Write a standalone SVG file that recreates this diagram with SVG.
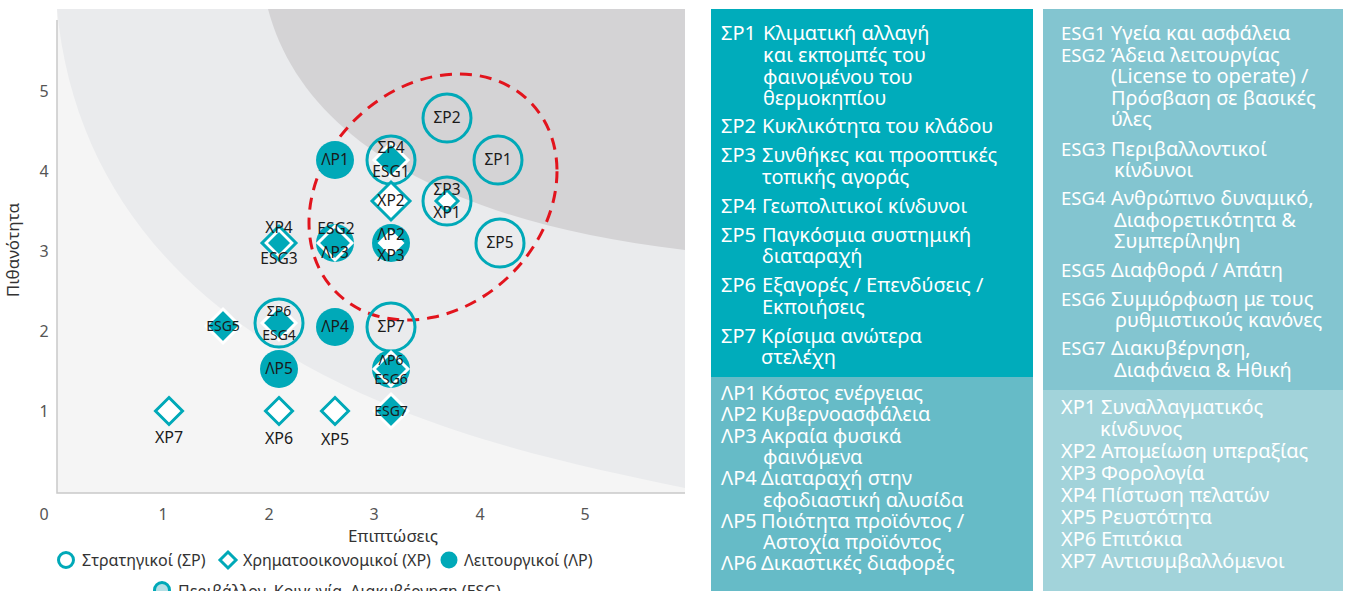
<svg xmlns="http://www.w3.org/2000/svg" xmlns:xlink="http://www.w3.org/1999/xlink" width="1359" height="591" viewBox="0 0 1359 591">
<style>
text{font-family:"Noto Sans","DejaVu Sans",sans-serif}
.sp{fill:none;stroke:#00a9b8;stroke-width:3}
.lp{fill:#00a9b8}
.xp{fill:#fff;stroke:#00a9b8;stroke-width:3}
.esg{fill:#00a9b8;stroke:#fff;stroke-width:3}
.in{fill:#00a9b8}
.wd{fill:#fff}
.lbl{font-size:15.5px;fill:#1a1a1a;text-anchor:middle}
.big{font-size:16px}
.sm{font-size:14px}
.tick{font-size:16px;fill:#555;text-anchor:middle}
.axt{font-size:17px;fill:#333;text-anchor:middle}
.leg{font-size:16px;fill:#333}
.pt{font-size:20px;fill:#fff}
.el{font-size:18.5px}
</style>
<defs>
<path id="d17" d="M0,-17L17,0L0,17L-17,0Z"/>
<path id="d19" d="M0,-19L19,0L0,19L-19,0Z"/>
<path id="d13" d="M0,-13.5L13.5,0L0,13.5L-13.5,0Z"/>
<path id="d11" d="M0,-11L11,0L0,11L-11,0Z"/>
<path id="d8" d="M0,-8L8,0L0,8L-8,0Z"/>
</defs>

<g id="chart-bg">
<rect x="57" y="9" width="628" height="484" fill="#f5f5f5"/>
<path d="M57,9 C75,200 200,330 400,410 C500,450 600,470 685,488 L685,9 Z" fill="#eaebed"/>
<path d="M268,9 C300,130 430,220 685,250 L685,9 Z" fill="#d4d3d5"/>
<path d="M57,20 L57,493 L685,493" fill="none" stroke="#c9c9c9" stroke-width="1.5"/>
</g>

<g id="axes">
<text class="tick" x="44" y="97">5</text>
<text class="tick" x="44" y="177">4</text>
<text class="tick" x="44" y="257">3</text>
<text class="tick" x="44" y="337">2</text>
<text class="tick" x="44" y="417">1</text>
<text class="tick" x="44" y="520">0</text>
<text class="tick" x="163" y="520">1</text>
<text class="tick" x="269" y="520">2</text>
<text class="tick" x="374" y="520">3</text>
<text class="tick" x="480" y="520">4</text>
<text class="tick" x="585" y="520">5</text>
<text class="axt" x="393" y="542">Επιπτώσεις</text>
<text class="axt" transform="translate(19,250) rotate(-90)">Πιθανότητα</text>
</g>

<g id="connectors">
<path d="M557,171.2 C557,237.6 501.5,303.1 433,317.3 C364.5,331.5 309,289.2 309,222.8 C309,156.4 364.5,90.9 433,76.7 C501.5,62.5 557,104.8 557,171.2 Z" fill="none" stroke="#e2141d" stroke-width="3" stroke-dasharray="12 8"/>
</g>

<g id="SP2"><circle class="sp" cx="447" cy="118" r="24"/><text class="lbl" x="447" y="123">ΣΡ2</text></g>
<g id="SP1"><circle class="sp" cx="498" cy="160" r="24"/><text class="lbl" x="498" y="165">ΣΡ1</text></g>
<g id="LP1"><circle class="lp" cx="335" cy="160" r="19"/><text class="lbl" x="335" y="165">ΛΡ1</text></g>
<g id="SP4-ESG1"><circle class="sp" cx="391" cy="160" r="24"/><use xlink:href="#d17" class="esg" x="391" y="160"/><text class="lbl" x="391" y="153">ΣΡ4</text><text class="lbl" x="391" y="177">ESG1</text></g>
<g id="XP2"><use xlink:href="#d19" class="xp" x="391" y="201"/><text class="lbl" x="391" y="206">ΧΡ2</text></g>
<g id="SP3-XP1"><circle class="sp" cx="447" cy="201" r="24"/><use xlink:href="#d11" class="xp" x="447" y="201"/><text class="lbl" x="447" y="195">ΣΡ3</text><text class="lbl" x="447" y="218">ΧΡ1</text></g>
<g id="SP5"><circle class="sp" cx="500" cy="243" r="24"/><text class="lbl" x="500" y="248">ΣΡ5</text></g>
<g id="XP4-ESG3"><use xlink:href="#d17" class="xp" x="279" y="243"/><use xlink:href="#d11" class="in" x="279" y="243"/><text class="lbl" x="279" y="233">ΧΡ4</text><text class="lbl" x="279" y="264">ESG3</text></g>
<g id="ESG2-LP3"><circle class="lp" cx="335" cy="243" r="19"/><use xlink:href="#d17" class="esg" x="335" y="243"/><text class="lbl" x="336" y="234">ESG2</text><text class="lbl" x="335" y="258">ΛΡ3</text></g>
<g id="LP2-XP3"><circle class="lp" cx="391" cy="243" r="19"/><use xlink:href="#d13" class="wd" x="391" y="243"/><text class="lbl" x="391" y="240">ΛΡ2</text><text class="lbl" x="391" y="261">ΧΡ3</text></g>
<g id="ESG5"><use xlink:href="#d17" class="esg" x="223" y="326"/><text class="lbl sm" x="223" y="331">ESG5</text></g>
<g id="SP6-ESG4"><circle class="sp" cx="279" cy="323" r="24"/><use xlink:href="#d17" class="esg" x="279" y="323"/><text class="lbl sm" x="279" y="316">ΣΡ6</text><text class="lbl sm" x="279" y="340">ESG4</text></g>
<g id="LP4"><circle class="lp" cx="335" cy="327" r="19"/><text class="lbl" x="335" y="332">ΛΡ4</text></g>
<g id="SP7"><circle class="sp" cx="391" cy="327" r="24"/><text class="lbl" x="391" y="332">ΣΡ7</text></g>
<g id="LP5"><circle class="lp" cx="279" cy="369" r="19"/><text class="lbl" x="279" y="374">ΛΡ5</text></g>
<g id="LP6-ESG6"><circle class="lp" cx="391" cy="369" r="19"/><use xlink:href="#d17" class="esg" x="391" y="369"/><text class="lbl sm" x="391" y="365">ΛΡ6</text><text class="lbl sm" x="391" y="384">ESG6</text></g>
<g id="XP7"><use xlink:href="#d13" class="xp" x="169" y="411"/><text class="lbl big" x="169" y="443">ΧΡ7</text></g>
<g id="XP6"><use xlink:href="#d13" class="xp" x="279" y="411"/><text class="lbl big" x="279" y="444">ΧΡ6</text></g>
<g id="XP5"><use xlink:href="#d13" class="xp" x="335" y="411"/><text class="lbl big" x="335" y="445">ΧΡ5</text></g>
<g id="ESG7"><use xlink:href="#d17" class="esg" x="391" y="411"/><text class="lbl sm" x="391" y="416">ESG7</text></g>

<g id="legend">
<circle cx="66" cy="560" r="7.5" fill="#fff" stroke="#00a9b8" stroke-width="3"/>
<text class="leg" x="82" y="566">Στρατηγικοί (ΣΡ)</text>
<use xlink:href="#d8" class="xp" x="228" y="560"/>
<text class="leg" x="243" y="566">Χρηματοοικονομικοί (ΧΡ)</text>
<circle cx="449" cy="560" r="8.5" fill="#00a9b8"/>
<text class="leg" x="464" y="566">Λειτουργικοί (ΛΡ)</text>
<circle cx="162" cy="590" r="7.5" fill="#b4dfe5" stroke="#00a9b8" stroke-width="3"/>
<text class="leg" x="178" y="597">Περιβάλλον, Κοινωνία, Διακυβέρνηση (ESG)</text>
</g>

<g id="panel-SP">
<rect x="711" y="9" width="322" height="368" fill="#00acbb"/>
<text class="pt"><tspan x="721" y="40">ΣΡ1</tspan><tspan x="763" y="40">Κλιματική αλλαγή</tspan><tspan x="763" y="62">και εκπομπές του</tspan><tspan x="763" y="83.5">φαινομένου του</tspan><tspan x="763" y="105">θερμοκηπίου</tspan></text>
<text class="pt"><tspan x="721" y="133">ΣΡ2</tspan><tspan x="762" y="133">Κυκλικότητα του κλάδου</tspan></text>
<text class="pt"><tspan x="721" y="162">ΣΡ3</tspan><tspan x="762" y="162">Συνθήκες και προοπτικές</tspan><tspan x="762" y="183.5">τοπικής αγοράς</tspan></text>
<text class="pt"><tspan x="721" y="213">ΣΡ4</tspan><tspan x="762" y="213">Γεωπολιτικοί κίνδυνοι</tspan></text>
<text class="pt"><tspan x="721" y="242">ΣΡ5</tspan><tspan x="762" y="242">Παγκόσμια συστημική</tspan><tspan x="762" y="263">διαταραχή</tspan></text>
<text class="pt"><tspan x="721" y="292">ΣΡ6</tspan><tspan x="762" y="292">Εξαγορές / Επενδύσεις /</tspan><tspan x="762" y="313.5">Εκποιήσεις</tspan></text>
<text class="pt"><tspan x="721" y="343">ΣΡ7</tspan><tspan x="761" y="343">Κρίσιμα ανώτερα</tspan><tspan x="761" y="364">στελέχη</tspan></text>
</g>

<g id="panel-LP">
<rect x="711" y="377" width="322" height="214" fill="#66bbc7"/>
<text class="pt"><tspan x="721" y="400">ΛΡ1</tspan><tspan x="761" y="400">Κόστος ενέργειας</tspan></text>
<text class="pt"><tspan x="721" y="421.3">ΛΡ2</tspan><tspan x="761" y="421.3">Κυβερνοασφάλεια</tspan></text>
<text class="pt"><tspan x="721" y="442.6">ΛΡ3</tspan><tspan x="761" y="442.6">Ακραία φυσικά</tspan><tspan x="763" y="463.9">φαινόμενα</tspan></text>
<text class="pt"><tspan x="721" y="485.2">ΛΡ4</tspan><tspan x="761" y="485.2">Διαταραχή στην</tspan><tspan x="763" y="506.5">εφοδιαστική αλυσίδα</tspan></text>
<text class="pt"><tspan x="721" y="527.8">ΛΡ5</tspan><tspan x="761" y="527.8">Ποιότητα προϊόντος /</tspan><tspan x="763" y="549.1">Αστοχία προϊόντος</tspan></text>
<text class="pt"><tspan x="721" y="570.4">ΛΡ6</tspan><tspan x="761" y="570.4">Δικαστικές διαφορές</tspan></text>
</g>

<g id="panel-ESG">
<rect x="1043" y="9" width="300" height="381" fill="#83c5d0"/>
<text class="pt"><tspan class="el" x="1061" y="40">ESG1</tspan><tspan x="1111" y="40">Υγεία και ασφάλεια</tspan></text>
<text class="pt"><tspan class="el" x="1061" y="61.5">ESG2</tspan><tspan x="1111" y="61.5">Άδεια λειτουργίας</tspan><tspan x="1111" y="83">(License to operate) /</tspan><tspan x="1111" y="104.5">Πρόσβαση σε βασικές</tspan><tspan x="1111" y="126">ύλες</tspan></text>
<text class="pt"><tspan class="el" x="1061" y="155.5">ESG3</tspan><tspan x="1111" y="155.5">Περιβαλλοντικοί</tspan><tspan x="1114" y="177">κίνδυνοι</tspan></text>
<text class="pt"><tspan class="el" x="1061" y="205">ESG4</tspan><tspan x="1111" y="205">Ανθρώπινο δυναμικό,</tspan><tspan x="1114" y="226.5">Διαφορετικότητα &amp;</tspan><tspan x="1114" y="248">Συμπερίληψη</tspan></text>
<text class="pt"><tspan class="el" x="1061" y="276.5">ESG5</tspan><tspan x="1111" y="276.5">Διαφθορά / Απάτη</tspan></text>
<text class="pt"><tspan class="el" x="1061" y="305.5">ESG6</tspan><tspan x="1111" y="305.5">Συμμόρφωση με τους</tspan><tspan x="1115" y="327">ρυθμιστικούς κανόνες</tspan></text>
<text class="pt"><tspan class="el" x="1061" y="355">ESG7</tspan><tspan x="1111" y="355">Διακυβέρνηση,</tspan><tspan x="1114" y="376.5">Διαφάνεια &amp; Ηθική</tspan></text>
</g>

<g id="panel-XP">
<rect x="1043" y="390" width="300" height="201" fill="#a2d3da"/>
<text class="pt"><tspan x="1061" y="414">ΧΡ1</tspan><tspan x="1101" y="414">Συναλλαγματικός</tspan><tspan x="1100" y="436">κίνδυνος</tspan></text>
<text class="pt"><tspan x="1061" y="458">ΧΡ2</tspan><tspan x="1101" y="458">Απομείωση υπεραξίας</tspan></text>
<text class="pt"><tspan x="1061" y="480">ΧΡ3</tspan><tspan x="1101" y="480">Φορολογία</tspan></text>
<text class="pt"><tspan x="1061" y="502">ΧΡ4</tspan><tspan x="1101" y="502">Πίστωση πελατών</tspan></text>
<text class="pt"><tspan x="1061" y="524">ΧΡ5</tspan><tspan x="1101" y="524">Ρευστότητα</tspan></text>
<text class="pt"><tspan x="1061" y="546">ΧΡ6</tspan><tspan x="1101" y="546">Επιτόκια</tspan></text>
<text class="pt"><tspan x="1061" y="568">ΧΡ7</tspan><tspan x="1101" y="568">Αντισυμβαλλόμενοι</tspan></text>
</g>
</svg>
